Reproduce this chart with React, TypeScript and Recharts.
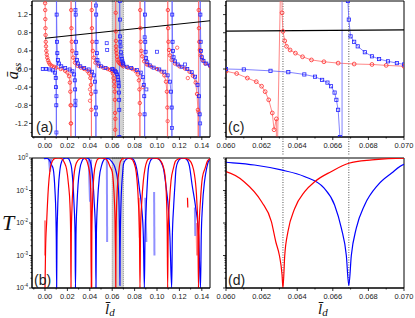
import React from "react";
import { ComposedChart, Line, Scatter, XAxis, YAxis, ReferenceArea, ReferenceLine } from "recharts";

type Pt = [number, number];

// steady-state amplitude a_ss vs l_d, panels (a) and (c). red = circles, blue = squares
const assRed: Pt[] = [
  [0.0, 3], [0.0001, 1.45], [0.0002, 1.3], [0.0003, 1.1], [0.0004, 0.9], [0.0005, 0.75], [0.0007, 0.6], [0.0009, 0.5], [0.0012, 0.4], [0.0016, 0.32], [0.002, 0.25], [0.0027, 0.19], [0.0035, 0.14], [0.0045, 0.1], [0.006, 0.07], [0.008, 0.05], [0.01, 0.03], [0.014, 0.0], [0.018, -0.04], [0.02, -0.08], [0.0215, -0.16], [0.0222, -0.3], [0.0226, -0.5], [0.0229, -0.8], [0.0231, -1.2], [0.0232, -3],
  [0.0232, 3], [0.0234, 1.3], [0.0236, 0.9], [0.0239, 0.6], [0.0244, 0.4], [0.0252, 0.25], [0.0267, 0.14], [0.029, 0.07], [0.032, 0.03], [0.035, 0.0], [0.038, -0.05], [0.0395, -0.1], [0.0405, -0.2], [0.041, -0.35], [0.0412, -0.55], [0.0414, -0.9], [0.0415, -3],
  [0.0415, 3], [0.0417, 1.3], [0.0419, 0.9], [0.0422, 0.6], [0.0427, 0.4], [0.0435, 0.25], [0.045, 0.14], [0.048, 0.07], [0.052, 0.03], [0.056, 0.0], [0.058, -0.02], [0.06, -0.05], [0.0606, -0.1], [0.0612, -0.2], [0.0617, -0.28], [0.062, -0.38], [0.0622, -0.5], [0.0624, -0.68], [0.0626, -0.97], [0.0627, -1.34], [0.06283, -1.1], [0.06283, -3],
  [0.06312, 3], [0.06315, 1.24], [0.0632, 0.83], [0.0633, 0.62], [0.0634, 0.5], [0.0636, 0.42], [0.0639, 0.35], [0.0643, 0.27], [0.0648, 0.2], [0.0655, 0.16], [0.0663, 0.13], [0.0672, 0.11], [0.0682, 0.1], [0.069, 0.08], [0.07, 0.06], [0.074, 0.03], [0.078, 0.0], [0.081, -0.05], [0.0828, -0.12], [0.0838, -0.25], [0.0843, -0.45], [0.0846, -0.75], [0.0848, -3],
  [0.0848, 3], [0.085, 1.3], [0.0852, 0.9], [0.0855, 0.6], [0.086, 0.4], [0.0868, 0.28], [0.0885, 0.17], [0.091, 0.1], [0.095, 0.05], [0.1, 0.0], [0.104, -0.06], [0.1065, -0.14], [0.108, -0.28], [0.1088, -0.5], [0.1092, -0.85], [0.1095, -3],
  [0.1095, 3], [0.1097, 1.3], [0.1099, 0.9], [0.1102, 0.6], [0.1107, 0.42], [0.1115, 0.3], [0.113, 0.2], [0.116, 0.12], [0.12, 0.06], [0.125, 0.01], [0.129, -0.06], [0.132, -0.15], [0.1345, -0.3], [0.1357, -0.55], [0.1365, -0.9], [0.137, -3],
  [0.137, 3], [0.1372, 1.3], [0.1374, 0.9], [0.1377, 0.6], [0.1382, 0.42], [0.139, 0.3], [0.1405, 0.2], [0.143, 0.12], [0.1475, 0.06],
];

const assBlue: Pt[] = [
  [-0.002, 0.0], [0.001, 0.0], [0.004, -0.01], [0.007, -0.03], [0.0088, -0.08], [0.0096, -0.2], [0.0099, -0.4], [0.0101, -0.8], [0.0102, -3],
  [0.0102, 3], [0.0104, 1.2], [0.0107, 0.6], [0.011, 0.35], [0.0115, 0.2], [0.0125, 0.12], [0.0145, 0.06], [0.018, 0.02], [0.022, -0.01], [0.0245, -0.05], [0.026, -0.12], [0.0266, -0.25], [0.0269, -0.45], [0.0271, -0.8], [0.0272, -3],
  [0.0272, 3], [0.0274, 1.2], [0.0277, 0.6], [0.028, 0.35], [0.0285, 0.2], [0.0295, 0.12], [0.0315, 0.06], [0.035, 0.02], [0.039, -0.01], [0.042, -0.06], [0.0438, -0.14], [0.0447, -0.28], [0.0451, -0.5], [0.0454, -0.85], [0.0455, -3],
  [0.0455, 3], [0.0457, 1.2], [0.046, 0.6], [0.0463, 0.35], [0.0468, 0.2], [0.0478, 0.12], [0.05, 0.06], [0.054, 0.02], [0.06, 0.0], [0.061, -0.01], [0.0625, -0.04], [0.0635, -0.07], [0.0644, -0.12], [0.065, -0.17], [0.0654, -0.24], [0.0657, -0.3], [0.0659, -0.38], [0.0661, -0.52], [0.0662, -0.68], [0.0663, -0.9], [0.0664, -1.5], [0.06652, -3],
  [0.06652, 3], [0.06684, 3], [0.06685, 1.5], [0.0669, 1.09], [0.067, 0.72], [0.0672, 0.6], [0.0674, 0.5], [0.0678, 0.37], [0.0682, 0.28], [0.0686, 0.22], [0.0691, 0.17], [0.0696, 0.13], [0.07, 0.1], [0.073, 0.05], [0.077, 0.02], [0.082, -0.02], [0.0855, -0.08], [0.0873, -0.18], [0.0882, -0.35], [0.0886, -0.6], [0.0889, -1.0], [0.089, -3],
  [0.089, 3], [0.0892, 1.2], [0.0895, 0.6], [0.0898, 0.38], [0.0903, 0.24], [0.0913, 0.15], [0.0935, 0.08], [0.097, 0.03], [0.102, -0.01], [0.1065, -0.06], [0.1095, -0.14], [0.1115, -0.28], [0.1125, -0.5], [0.1131, -0.85], [0.1134, -3],
  [0.1134, 3], [0.1136, 1.2], [0.1139, 0.6], [0.1142, 0.4], [0.1148, 0.26], [0.116, 0.17], [0.1185, 0.1], [0.122, 0.05], [0.127, 0.0], [0.131, -0.07], [0.134, -0.17], [0.1362, -0.35], [0.1375, -0.6], [0.1381, -1.0], [0.1385, -3],
  [0.1385, 3], [0.1387, 1.2], [0.139, 0.6], [0.1393, 0.4], [0.14, 0.26], [0.1415, 0.18], [0.144, 0.12], [0.1475, 0.08],
];

// loose symbols sitting on the jump lines
const assRedStray: Pt[] = [
  [0.0232, -0.8], [0.0232, -1.2], [0.0402, -0.45], [0.0402, -0.7], [0.0848, -1.0], [0.0875, -0.4],
  [0.0918, 0.1], [0.1095, -1.15], [0.118, 0.47], [0.1275, -0.2], [0.137, -0.95],
];
const assBlueStray: Pt[] = [
  [0.0102, -0.6], [0.0102, -1.4], [0.0272, -0.7], [0.0272, 1.3], [0.0455, 1.4], [0.0455, -1.0],
  [0.0551, 0.57], [0.0555, 0.42], [0.089, 0.7], [0.0905, -0.45], [0.1, 0.38], [0.1134, -1.3],
  [0.125, 0.1], [0.1385, -1.2],
];

const guideLine: Pt[] = [[0.0, 0.68], [0.15, 1.07]];

// transmission T vs l_d, panels (b) and (d)
const redT: Pt[] = [
  [0.0, 0.0001], [0.0005, 0.0015], [0.0015, 0.011], [0.003, 0.12], [0.0045, 0.43], [0.0065, 0.8], [0.009, 0.97], [0.012, 1.0],
  [0.015, 0.95], [0.0175, 0.7], [0.0193, 0.45], [0.021, 0.15], [0.0223, 0.036], [0.0229, 0.005], [0.0232, 0.0001],
  [0.0235, 0.005], [0.0241, 0.03], [0.0259, 0.3], [0.028, 0.7], [0.031, 0.95], [0.034, 1.0], [0.0365, 0.92], [0.0385, 0.6],
  [0.0402, 0.28], [0.041, 0.05], [0.0415, 0.0001], [0.0418, 0.005], [0.0425, 0.05], [0.0437, 0.3], [0.0455, 0.7],
  [0.0475, 0.95], [0.05, 1.0], [0.053, 0.97], [0.056, 0.8], [0.058, 0.55], [0.06, 0.38], [0.061, 0.19], [0.062, 0.045],
  [0.06255, 0.011], [0.0628, 0.0026], [0.063, 0.001], [0.06315, 0.00025], [0.0632, 0.0001], [0.0633, 0.001],
  [0.06348, 0.0054], [0.06386, 0.028], [0.06442, 0.092], [0.065, 0.19], [0.0659, 0.38], [0.0669, 0.69], [0.0682, 0.87],
  [0.07, 0.99], [0.073, 1.0], [0.077, 0.95], [0.0795, 0.7], [0.0815, 0.35], [0.0833, 0.05], [0.0843, 0.006],
  [0.0848, 0.0001], [0.0853, 0.006], [0.0863, 0.04], [0.0878, 0.2], [0.0893, 0.48], [0.091, 0.8], [0.0923, 0.93],
  [0.095, 1.0], [0.1, 0.97], [0.103, 0.85], [0.1055, 0.55], [0.1071, 0.3], [0.1085, 0.05], [0.1091, 0.006],
  [0.1095, 0.0001], [0.11, 0.006], [0.1112, 0.05], [0.1125, 0.2], [0.1146, 0.48], [0.1165, 0.8], [0.119, 0.93],
  [0.122, 1.0], [0.1255, 0.97], [0.129, 0.85], [0.1315, 0.6], [0.1335, 0.3], [0.1355, 0.05], [0.1365, 0.006],
  [0.137, 0.0001], [0.1375, 0.006], [0.1388, 0.05], [0.1405, 0.25], [0.1429, 0.48], [0.145, 0.8], [0.1475, 0.95],
];

const blueT: Pt[] = [
  [-0.001, 0.95], [0.002, 0.97], [0.004, 0.85], [0.006, 0.6], [0.0074, 0.45], [0.0089, 0.1], [0.0097, 0.02], [0.0101, 0.003],
  [0.0104, 0.0001], [0.0107, 0.003], [0.0112, 0.02], [0.0119, 0.1], [0.0134, 0.45], [0.015, 0.8], [0.0164, 0.93],
  [0.019, 1.0], [0.021, 0.95], [0.0225, 0.75], [0.0238, 0.48], [0.0259, 0.04], [0.0268, 0.005], [0.0272, 0.0001],
  [0.0277, 0.005], [0.0286, 0.04], [0.0295, 0.15], [0.0312, 0.48], [0.033, 0.8], [0.0342, 0.93], [0.037, 1.0],
  [0.039, 0.95], [0.0405, 0.75], [0.0417, 0.48], [0.044, 0.04], [0.0451, 0.005], [0.0455, 0.0001], [0.0459, 0.005],
  [0.047, 0.05], [0.0485, 0.25], [0.0506, 0.6], [0.0525, 0.88], [0.0545, 0.97], [0.057, 0.95], [0.06, 0.74],
  [0.0616, 0.61], [0.0631, 0.43], [0.0644, 0.27], [0.0655, 0.12], [0.0661, 0.036], [0.06648, 0.0069], [0.06676, 0.001],
  [0.0669, 0.00012], [0.06704, 0.001], [0.06732, 0.0069], [0.06779, 0.036], [0.06854, 0.15], [0.06929, 0.34],
  [0.07, 0.64], [0.072, 0.88], [0.0745, 0.98], [0.078, 0.95], [0.0805, 0.7], [0.0818, 0.48], [0.0845, 0.1],
  [0.0863, 0.03], [0.0878, 0.004], [0.0887, 0.0001], [0.0893, 0.004], [0.0903, 0.03], [0.0923, 0.48], [0.094, 0.8],
  [0.0952, 0.93], [0.098, 1.0], [0.101, 0.95], [0.1035, 0.75], [0.1057, 0.48], [0.1085, 0.1], [0.1101, 0.03],
  [0.1115, 0.004], [0.1131, 0.0001], [0.1137, 0.004], [0.1148, 0.03], [0.116, 0.15], [0.117, 0.48], [0.119, 0.8],
  [0.1205, 0.93], [0.1235, 1.0], [0.1265, 0.9], [0.129, 0.55], [0.1313, 0.15], [0.1345, 0.03], [0.1372, 0.004],
  [0.1388, 0.0001], [0.1395, 0.004], [0.1405, 0.03], [0.1425, 0.2], [0.1443, 0.48], [0.146, 0.8], [0.1475, 0.9],
];

// faint extra traces in (b)
const redTFaint: Pt[][] = [
  [[0.0, 0.012], [0.0, 0.001]],
  [[0.0405, 0.12], [0.041, 0.02], [0.0415, 0.0001]],
  [[0.0838, 0.06], [0.0846, 0.0035]],
  [[0.1352, 0.01], [0.1358, 0.001]],
];
const redTShort: Pt[] = [[0.1272, 0.06], [0.1275, 0.03]];
const blueTFaint: Pt[][] = [
  [[0.0035, 0.95], [0.0045, 0.38], [0.0055, 0.95]],
  [[0.039, 0.9], [0.0402, 0.045], [0.0412, 0.9]],
  [[0.0552, 0.92], [0.0555, 0.0026]],
  [[0.0895, 0.06], [0.0905, 0.0026]],
  [[0.0974, 0.09], [0.0977, 0.001]],
  [[0.1338, 0.03], [0.1342, 0.004]],
];

const wideDomain: Pt = [-0.0116, 0.1473];
const zoomDomain: Pt = [0.06, 0.07];
const assDomain: Pt = [-1.5, 1.5];
const tDomain: Pt = [0.0001, 1];
const band: Pt = [0.06, 0.07];
const resonances = [0.0632, 0.0669];

const wideTicks = [-0.01, 0, 0.01, 0.02, 0.03, 0.04, 0.05, 0.06, 0.07, 0.08, 0.09, 0.1, 0.11, 0.12, 0.13, 0.14];
const zoomTicks = [0.06, 0.061, 0.062, 0.063, 0.064, 0.065, 0.066, 0.067, 0.068, 0.069, 0.07];
const assTicks = [-1.4, -1.2, -1.0, -0.8, -0.6, -0.4, -0.2, 0, 0.2, 0.4, 0.6, 0.8, 1.0, 1.2, 1.4];
const tDecades = [0.0001, 0.001, 0.01, 0.1, 1];
const tMinor = [1, 2, 3, 4, 5, 6, 7, 8, 9];
const tTicks = tDecades.slice(0, -1).flatMap((d) => tMinor.map((k) => d * k)).concat([1]);

const sans = "'Liberation Sans', Arial, sans-serif";
const serif = "'Liberation Serif', 'Times New Roman', serif";

const toXY = (pts: Pt[]) => pts.map(([x, y]) => ({ x, y }));

const circleDot = (color: string, r: number) => (p: any) => {
  const { cx, cy, payload, index } = p;
  if (cx == null || cy == null || Math.abs(payload.y) > 1.6) return <g key={index} />;
  return <circle key={index} cx={cx} cy={cy} r={r} fill="none" stroke={color} strokeWidth={0.8} />;
};
const squareDot = (color: string, s: number) => (p: any) => {
  const { cx, cy, payload, index } = p;
  if (cx == null || cy == null || Math.abs(payload.y) > 1.6) return <g key={index} />;
  return <rect key={index} x={cx - s / 2} y={cy - s / 2} width={s} height={s} fill="none" stroke={color} strokeWidth={0.8} />;
};

function xTick(digits: number, step: number) {
  return (p: any) => {
    const { x, y, payload } = p;
    const v = payload.value;
    const major = Math.round(v / step) % 2 === 0;
    return (
      <g>
        <line x1={x} x2={x} y1={y} y2={y + (major ? 3 : 1.5)} stroke="#000" strokeWidth={0.8} />
        {major && (
          <text x={x} y={y + 10.5} textAnchor="middle" fontSize={7.5} fontFamily={sans} fill="#222">
            {v.toFixed(digits)}
          </text>
        )}
      </g>
    );
  };
}

function assTick(labelled: boolean) {
  return (p: any) => {
    const { x, y, payload } = p;
    const v = payload.value;
    const major = Math.round(v * 10) % 4 === 0;
    return (
      <g>
        <line x1={x} x2={x - (major ? 3 : 1.5)} y1={y} y2={y} stroke="#000" strokeWidth={0.8} />
        {labelled && major && (
          <text x={x - 4} y={y} dy="0.35em" textAnchor="end" fontSize={7.5} fontFamily={sans} fill="#222">
            {v.toFixed(1)}
          </text>
        )}
      </g>
    );
  };
}

function logTick(labelled: boolean) {
  return (p: any) => {
    const { x, y, payload } = p;
    const e = Math.log10(payload.value);
    const major = Math.abs(e - Math.round(e)) < 1e-6;
    return (
      <g>
        <line x1={x} x2={x - (major ? 3 : 1.5)} y1={y} y2={y} stroke="#000" strokeWidth={0.8} />
        {labelled && major && (
          <text x={x - 4} y={y} dy="0.35em" textAnchor="end" fontSize={7} fontFamily={sans} fill="#222">
            10<tspan dy={-3} fontSize={4.5}>{Math.round(e)}</tspan>
          </text>
        )}
      </g>
    );
  };
}

function AssPanel({ domain, ticks, digits, step, labelled, zoom }: any) {
  const r = zoom ? 1.9 : 1.7;
  const s = zoom ? 3.2 : 3;
  return (
    <ComposedChart width={224} height={156} margin={{ top: 1, right: 14, left: 0, bottom: 0 }}>
      <XAxis type="number" dataKey="x" domain={domain} allowDataOverflow ticks={ticks} interval={0}
        tickSize={0} tickMargin={0} tick={xTick(digits, step)} height={19} stroke="#000" />
      <YAxis type="number" dataKey="y" domain={assDomain} allowDataOverflow ticks={assTicks} interval={0}
        tickSize={0} tickMargin={0} tick={assTick(labelled)} width={32} stroke="#000" />
      {!zoom && (
        <ReferenceArea x1={band[0]} x2={band[1]} fill="#d2d2d2" fillOpacity={1} stroke="#777" strokeDasharray="1 1" strokeWidth={0.8} />
      )}
      {zoom && resonances.map((rx) => (
        <ReferenceLine key={rx} segment={[{ x: rx, y: 1.5 }, { x: rx, y: -1.97 }]} ifOverflow="visible"
          stroke="#555" strokeDasharray="1 1.5" strokeWidth={1} />
      ))}
      <Line data={toXY(assRed)} dataKey="y" type="linear" stroke="#ff6a6a" strokeWidth={0.8}
        dot={circleDot("#ff2a2a", r)} isAnimationActive={false} />
      <Scatter data={toXY(zoom ? [] : assRedStray)} dataKey="y" isAnimationActive={false}
        shape={(p: any) => <circle cx={p.cx} cy={p.cy} r={r} fill="none" stroke="#ff4a4a" strokeWidth={0.8} />} />
      <Line data={toXY(assBlue)} dataKey="y" type="linear" stroke="#6262ff" strokeWidth={0.8}
        dot={squareDot("#2020ff", s)} isAnimationActive={false} />
      <Scatter data={toXY(zoom ? [] : assBlueStray)} dataKey="y" isAnimationActive={false}
        shape={(p: any) => <rect x={p.cx - s / 2} y={p.cy - s / 2} width={s} height={s} fill="none" stroke="#3a3aff" strokeWidth={0.8} />} />
      <Line data={toXY(guideLine)} dataKey="y" type="linear" stroke="#000" strokeWidth={1.1} dot={false} isAnimationActive={false} />
      <ReferenceArea x1={domain[0]} x2={domain[1]} y1={assDomain[0]} y2={assDomain[1]} fill="none" stroke="#000" strokeWidth={1} ifOverflow="visible" />
    </ComposedChart>
  );
}

function TPanel({ domain, ticks, digits, step, labelled, zoom }: any) {
  return (
    <ComposedChart width={224} height={156} margin={{ top: 8, right: 14, left: 0, bottom: 0 }}>
      <XAxis type="number" dataKey="x" domain={domain} allowDataOverflow ticks={ticks} interval={0}
        tickSize={0} tickMargin={0} tick={xTick(digits, step)} height={18} stroke="#000" />
      <YAxis type="number" dataKey="y" scale="log" domain={tDomain} allowDataOverflow ticks={tTicks} interval={0}
        tickSize={0} tickMargin={0} tick={logTick(labelled)} width={32} stroke="#000" />
      {!zoom && (
        <ReferenceArea x1={band[0]} x2={band[1]} y1={tDomain[0]} y2={tDomain[1]} fill="#d2d2d2" fillOpacity={1} stroke="#777" strokeDasharray="1 1" strokeWidth={0.8} />
      )}
      {zoom && resonances.map((rx) => (
        <ReferenceLine key={rx} x={rx} stroke="#555" strokeDasharray="1 1.5" strokeWidth={1} />
      ))}
      {!zoom && redTFaint.map((seg, i) => (
        <Line key={"rf" + i} data={toXY(seg)} dataKey="y" type="linear" stroke="#ff8f8f" strokeWidth={2} dot={false} isAnimationActive={false} />
      ))}
      {!zoom && blueTFaint.map((seg, i) => (
        <Line key={"bf" + i} data={toXY(seg)} dataKey="y" type="linear" stroke="#9090ff" strokeWidth={2} dot={false} isAnimationActive={false} />
      ))}
      {!zoom && (
        <Line data={toXY(redTShort)} dataKey="y" type="linear" stroke="#ff0000" strokeWidth={1.2} dot={false} isAnimationActive={false} />
      )}
      <Line data={toXY(blueT)} dataKey="y" type="monotone" stroke="#0000ff" strokeWidth={1.2} dot={false} isAnimationActive={false} />
      <Line data={toXY(redT)} dataKey="y" type="monotone" stroke="#ff0000" strokeWidth={1.2} dot={false} isAnimationActive={false} />
      <ReferenceArea x1={domain[0]} x2={domain[1]} y1={tDomain[0]} y2={tDomain[1]} fill="none" stroke="#000" strokeWidth={1} ifOverflow="visible" />
    </ComposedChart>
  );
}

export default function App() {
  const box = (left: number, top: number): React.CSSProperties => ({ position: "absolute", left, top });
  return (
    <div style={{ position: "absolute", left: 0, top: 0, width: 415, height: 318, background: "#fff", overflow: "hidden" }}>
      <div style={box(0, 0)}>
        <AssPanel domain={wideDomain} ticks={wideTicks} digits={2} step={0.01} labelled zoom={false} />
      </div>
      <div style={box(194, 0)}>
        <AssPanel domain={zoomDomain} ticks={zoomTicks} digits={3} step={0.001} labelled={false} zoom />
      </div>
      <div style={box(0, 150)}>
        <TPanel domain={wideDomain} ticks={wideTicks} digits={2} step={0.01} labelled zoom={false} />
      </div>
      <div style={box(194, 150)}>
        <TPanel domain={zoomDomain} ticks={zoomTicks} digits={3} step={0.001} labelled={false} zoom />
      </div>
      <svg width={415} height={318} style={{ position: "absolute", left: 0, top: 0, pointerEvents: "none" }}>
        <text transform="translate(18,71) rotate(-90)" textAnchor="middle" fontFamily={serif} fontStyle="italic" fontSize={16} fill="#111">
          {"\u0101"}
          <tspan fontSize={11} dy={3}>ss</tspan>
        </text>
        <text x={2} y={230} fontFamily={serif} fontStyle="italic" fontSize={22} fill="#111">T</text>
        <text x={105} y={314} fontFamily={serif} fontStyle="italic" fontSize={15} fill="#111">
          {"l\u0304"}
          <tspan fontSize={11} dy={2}>d</tspan>
        </text>
        <text x={318} y={314} fontFamily={serif} fontStyle="italic" fontSize={15} fill="#111">
          {"l\u0304"}
          <tspan fontSize={11} dy={2}>d</tspan>
        </text>
        <text x={36} y={132} fontFamily={sans} fontSize={14} fill="#222">(a)</text>
        <text x={34} y={285} fontFamily={sans} fontSize={14} fill="#222">(b)</text>
        <text x={228} y={132} fontFamily={sans} fontSize={14} fill="#222">(c)</text>
        <text x={228} y={285} fontFamily={sans} fontSize={14} fill="#222">(d)</text>
      </svg>
    </div>
  );
}
